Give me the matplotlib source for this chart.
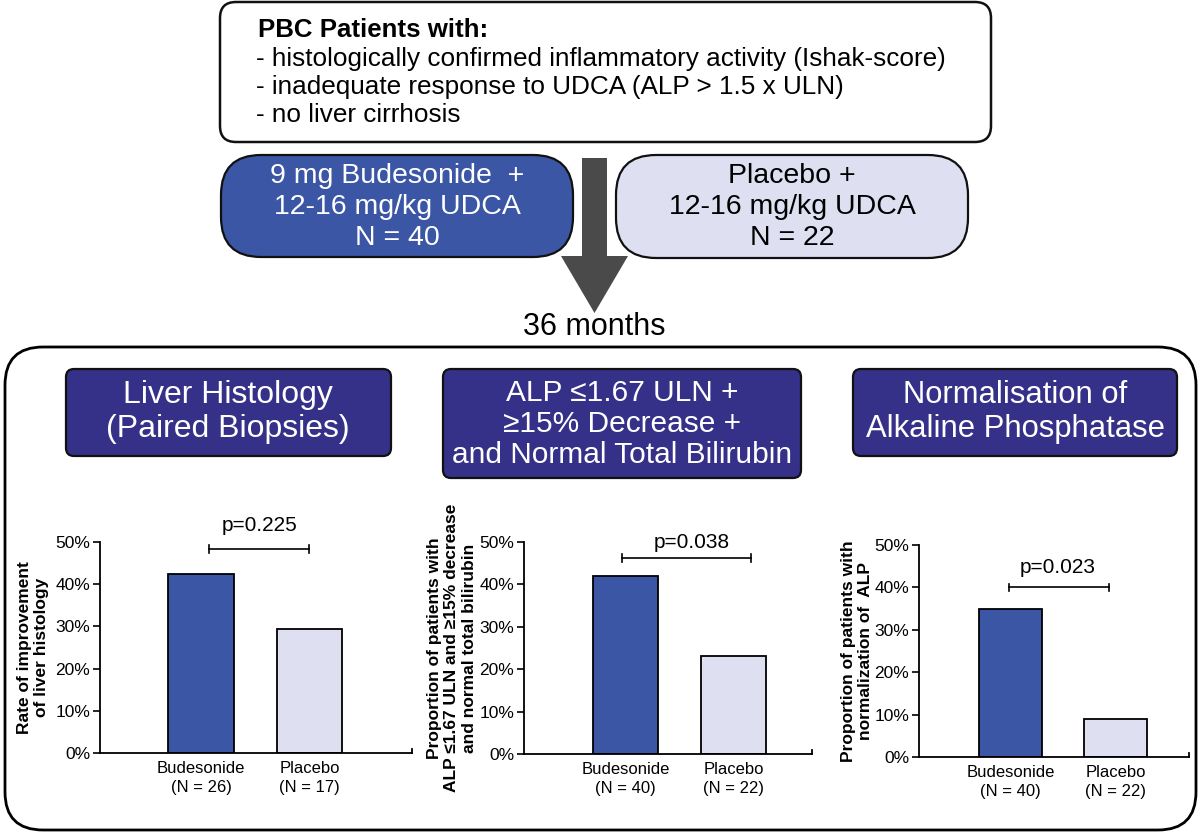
import matplotlib
matplotlib.use("Agg")
import matplotlib.pyplot as plt
from matplotlib.patches import FancyBboxPatch, Polygon

plt.rcParams['font.family'] = ['Liberation Sans', 'DejaVu Sans']

# data
groups = ["Budesonide", "Placebo"]
n_labels = [["(N = 26)", "(N = 17)"], ["(N = 40)", "(N = 22)"], ["(N = 40)", "(N = 22)"]]
values = [[42.3, 29.4], [42.0, 23.0], [35.0, 9.0]]
p_values = ["p=0.225", "p=0.038", "p=0.023"]
ylabels = ["Rate of improvement\nof liver histology",
           "Proportion of patients with\nALP \u22641.67 ULN and \u226515% decrease\nand normal total bilirubin",
           "Proportion of patients with\nnormalization of  ALP"]
headers = ["Liver Histology\n(Paired Biopsies)",
           "ALP \u22641.67 ULN +\n\u226515% Decrease +\nand Normal Total Bilirubin",
           "Normalisation of\nAlkaline Phosphatase"]
criteria = ["- histologically confirmed inflammatory activity (Ishak-score)",
            "- inadequate response to UDCA (ALP > 1.5 x ULN)",
            "- no liver cirrhosis"]
arms = ["9 mg Budesonide  +\n12-16 mg/kg UDCA\nN = 40", "Placebo +\n12-16 mg/kg UDCA\nN = 22"]

BLUE = "#3B56A5"
LIGHT = "#DEDFF1"
NAVY = "#353189"
W, H = 1200, 835

fig = plt.figure(figsize=(12, 8.35), dpi=100)
bg = fig.add_axes([0, 0, 1, 1])
bg.set_xlim(0, W)
bg.set_ylim(H, 0)
bg.axis("off")


def rbox(x0, y0, x1, y1, r, fc, ec="#111111", lw=1.6):
    bg.add_patch(FancyBboxPatch((x0, y0), x1 - x0, y1 - y0,
                                boxstyle=f"round,pad=0,rounding_size={r}",
                                fc=fc, ec=ec, lw=lw))


# inclusion box
rbox(220, 2, 991, 142, 16, "white", lw=1.8)
bg.text(258, 37, "PBC Patients with:", fontsize=18.6, fontweight="bold", va="baseline")
for i, line in enumerate(criteria):
    bg.text(256, 66 + i * 28, line, fontsize=18.8, va="baseline")

# treatment arms
rbox(221, 155, 573, 257, 40, BLUE)
rbox(616, 155, 968, 258, 40, LIGHT)
bg.text(397, 207, arms[0], color="white", fontsize=20.5, ha="center", va="center", linespacing=1.27)
bg.text(792, 207, arms[1], color="black", fontsize=20.5, ha="center", va="center", linespacing=1.27)

# arrow
bg.add_patch(Polygon([(582, 158), (607, 158), (607, 256), (628, 256), (594.5, 313),
                      (561, 256), (582, 256)], closed=True, fc="#4A4A4A", ec="none"))
bg.text(594, 327, "36 months", fontsize=22, ha="center", va="center")

# results frame
rbox(5, 347, 1196, 830, 38, "white", ec="black", lw=2)

# header boxes
rbox(66, 369, 391, 456, 8, NAVY)
rbox(443, 369, 801, 478, 8, NAVY)
rbox(853, 369, 1177, 456, 8, NAVY)
bg.text(228, 412, headers[0], color="white", fontsize=23, ha="center", va="center", linespacing=1.2)
bg.text(622, 424, headers[1], color="white", fontsize=21.5, ha="center", va="center", linespacing=1.12)
bg.text(1015, 412, headers[2], color="white", fontsize=22.3, ha="center", va="center", linespacing=1.2)

# bar panels: (left, right, y of 0%, y of 50%) in pixels
panels = [(100, 412, 753, 542), (524, 812, 754, 542), (919, 1189, 757, 545)]
xlims = [(-0.93, 1.94), (-0.935, 1.72), (-0.87, 1.70)]
br = [(0.07, 0.99, 48.3, 53.8, 0.54), (-0.03, 1.16, 46.2, 49.8, 0.61), (-0.01, 0.94, 40.0, 44.8, 0.45)]
ylab_x = [-0.215, -0.25, -0.23]

for k, (l, r, y0, y50) in enumerate(panels):
    ax = fig.add_axes([l / W, (H - y0) / H, (r - l) / W, (y0 - y50) / H])
    ax.bar([0, 1], values[k], width=0.6, color=[BLUE, LIGHT], edgecolor="black", linewidth=1.3)
    ax.set_xlim(*xlims[k])
    ax.set_ylim(0, 50)
    ax.set_yticks([0, 10, 20, 30, 40, 50])
    ax.set_yticklabels([f"{v}%" for v in range(0, 60, 10)], fontsize=12.5)
    ax.set_xticks([0, 1])
    ax.set_xticklabels([f"{g}\n{n}" for g, n in zip(groups, n_labels[k])], fontsize=12, linespacing=1.3)
    ax.tick_params(axis="x", length=0, pad=6)
    ax.tick_params(axis="y", length=5, width=1.2, direction="out", pad=2)
    for s in ["top", "right"]:
        ax.spines[s].set_visible(False)
    for s in ["left", "bottom"]:
        ax.spines[s].set_linewidth(1.3)
    ax.plot([xlims[k][1]] * 2, [0, 0.9], color="black", lw=1.3, clip_on=False)
    x0, x1, yb, yp, xp = br[k]
    ax.plot([x0, x1], [yb, yb], color="black", lw=1.2, clip_on=False)
    ax.plot([x0, x0], [yb - 0.9, yb + 0.9], color="black", lw=1.2, clip_on=False)
    ax.plot([x1, x1], [yb - 0.9, yb + 0.9], color="black", lw=1.2, clip_on=False)
    ax.text(xp, yp, p_values[k], fontsize=15, ha="center", va="center", clip_on=False)
    ax.text(ylab_x[k], 0.5, ylabels[k], transform=ax.transAxes, rotation=90, fontsize=12.5,
            fontweight="bold", ha="center", va="center", multialignment="center", linespacing=1.22)

fig.savefig("out.png", dpi=100)
